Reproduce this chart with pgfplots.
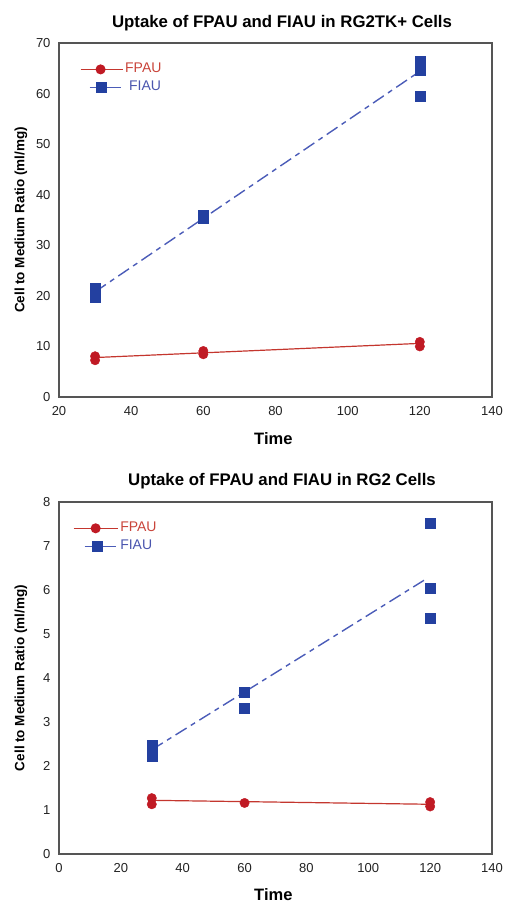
\documentclass[border=0pt]{standalone}
\usepackage{pgfplots}
\pgfplotsset{compat=1.18}
\usepackage{fontspec}
\setmainfont{Liberation Sans}
\definecolor{mred}{HTML}{C01A24}
\definecolor{lred}{HTML}{C4362E}
\definecolor{mblue}{HTML}{2340A0}
\definecolor{lblue}{HTML}{4B5CB8}
\definecolor{tred}{HTML}{C9443A}
\definecolor{tblue}{HTML}{4A55AE}
\definecolor{axgray}{HTML}{555555}
\definecolor{txt}{HTML}{222222}
\pgfplotsset{
  myax/.style={
    scale only axis,
    width=433pt,
    axis line style={draw=axgray, line width=1.3pt},
    major tick length=0pt,
    tick label style={font=\fontsize{13}{15}\selectfont, text=txt},
    /pgf/number format/assume math mode=true,
    xticklabel style={yshift=-6pt},
    yticklabel style={xshift=-5pt},
    title style={font=\bfseries\fontsize{16.8}{19}\selectfont, anchor=center, text=black},
    xlabel style={font=\bfseries\fontsize{16.5}{19}\selectfont, anchor=center, at={(axis description cs:0.495,0)}},
    ylabel style={font=\bfseries\fontsize{13.5}{16}\selectfont, anchor=center, at={(axis description cs:-0.088,0.5)}},
    legend cell align=left,
    clip=false,
  },
  redmk/.style={only marks, mark=*, mark size=4.7pt, color=mred, mark options={fill=mred, draw=mred}},
  bluemk/.style={only marks, mark=square*, mark size=5pt, color=mblue, mark options={fill=mblue, draw=mblue}},
  redln/.style={no marks, color=lred, line width=1.2pt},
  blueln/.style={no marks, color=lblue, line width=1.4pt, dash pattern=on 13pt off 5pt on 5pt off 5pt},
  legA/.style={legend image code/.code={\draw[##1, mark=none] (0pt,0pt) -- (42pt,0pt); \draw[##1] plot coordinates {(20pt,0pt)};}},
  legB/.style={legend image code/.code={\draw[##1, mark=none] (9pt,0pt) -- (40pt,0pt); \draw[##1] plot coordinates {(21pt,0pt)};}},
  legC/.style={legend image code/.code={\draw[##1, mark=none] (0pt,0pt) -- (44pt,0pt); \draw[##1] plot coordinates {(22pt,0pt)};}},
  legD/.style={legend image code/.code={\draw[##1, mark=none] (11pt,0pt) -- (42pt,0pt); \draw[##1] plot coordinates {(24pt,0pt)};}},
}
\begin{document}
\begin{tikzpicture}[x=1pt,y=1pt]
\useasboundingbox (0,0) rectangle (505,903);
% ---------- top chart ----------
\begin{axis}[myax,
  at={(59pt,506pt)}, anchor=south west,
  height=354pt,
  xmin=20, xmax=140, ymin=0, ymax=70,
  xtick={20,40,...,140}, ytick={0,10,...,70},
  title={Uptake of FPAU and FIAU in RG2TK+ Cells},
  title style={at={(axis description cs:0.515,1)}, yshift=14pt},
  xlabel={Time}, xlabel style={yshift=-42pt},
  ylabel={Cell to Medium Ratio (ml/mg)},
  legend style={draw=none, fill=none, at={(axis description cs:0.048,0.95)}, anchor=north west,
    inner sep=0pt, row sep=1pt, font=\fontsize{14}{16}\selectfont,
    nodes={inner sep=2pt, text height=10pt, text depth=3pt}},
]
\addlegendimage{color=lred, line width=1.2pt, mark=*, mark size=4.4pt, mark options={fill=mred, draw=mred}, legA}
\addlegendentry{\textcolor{tred}{FPAU}}
\addlegendimage{color=lblue, line width=1.2pt, mark=square*, mark size=5pt, mark options={fill=mblue, draw=mblue}, legB}
\addlegendentry{\hspace{4pt}\textcolor{tblue}{FIAU}}
\addplot[redln, forget plot] coordinates {(30,7.8) (120,10.6)};
\addplot[blueln, forget plot] coordinates {(30,20.8) (120,64.4)};
\addplot[redmk, forget plot] coordinates {(30,8.06) (30,7.27) (60,9.1) (60,8.45) (120,10.9) (120,10.0)};
\addplot[bluemk, forget plot] coordinates {(30,21.5) (30,20.6) (30,19.8) (60,36.0) (60,35.3) (120,66.4) (120,64.7) (120,59.4)};
\end{axis}
% ---------- bottom chart ----------
\begin{axis}[myax,
  at={(59pt,49pt)}, anchor=south west,
  height=352pt,
  xmin=0, xmax=140, ymin=0, ymax=8,
  xtick={0,20,...,140}, ytick={0,1,...,8},
  title={Uptake of FPAU and FIAU in RG2 Cells},
  title style={at={(axis description cs:0.515,1)}, yshift=15pt},
  xlabel={Time}, xlabel style={yshift=-41pt},
  ylabel={Cell to Medium Ratio (ml/mg)},
  legend style={draw=none, fill=none, at={(axis description cs:0.032,0.95)}, anchor=north west,
    inner sep=0pt, row sep=1pt, font=\fontsize{14}{16}\selectfont,
    nodes={inner sep=2pt, text height=10pt, text depth=3pt}},
]
\addlegendimage{color=lred, line width=1.2pt, mark=*, mark size=4.4pt, mark options={fill=mred, draw=mred}, legC}
\addlegendentry{\textcolor{tred}{FPAU}}
\addlegendimage{color=lblue, line width=1.2pt, mark=square*, mark size=5pt, mark options={fill=mblue, draw=mblue}, legD}
\addlegendentry{\textcolor{tblue}{FIAU}}
\addplot[redln, forget plot] coordinates {(30,1.22) (120,1.13)};
\addplot[blueln, forget plot] coordinates {(30,2.37) (118,6.22)};
\addplot[redmk, forget plot] coordinates {(30,1.27) (30,1.13) (60,1.16) (120,1.18) (120,1.08)};
\addplot[bluemk, forget plot] coordinates {(30,2.48) (30,2.22) (60,3.67) (60,3.31) (120,7.51) (120,6.03) (120,5.37)};
\end{axis}
\end{tikzpicture}
\end{document}
